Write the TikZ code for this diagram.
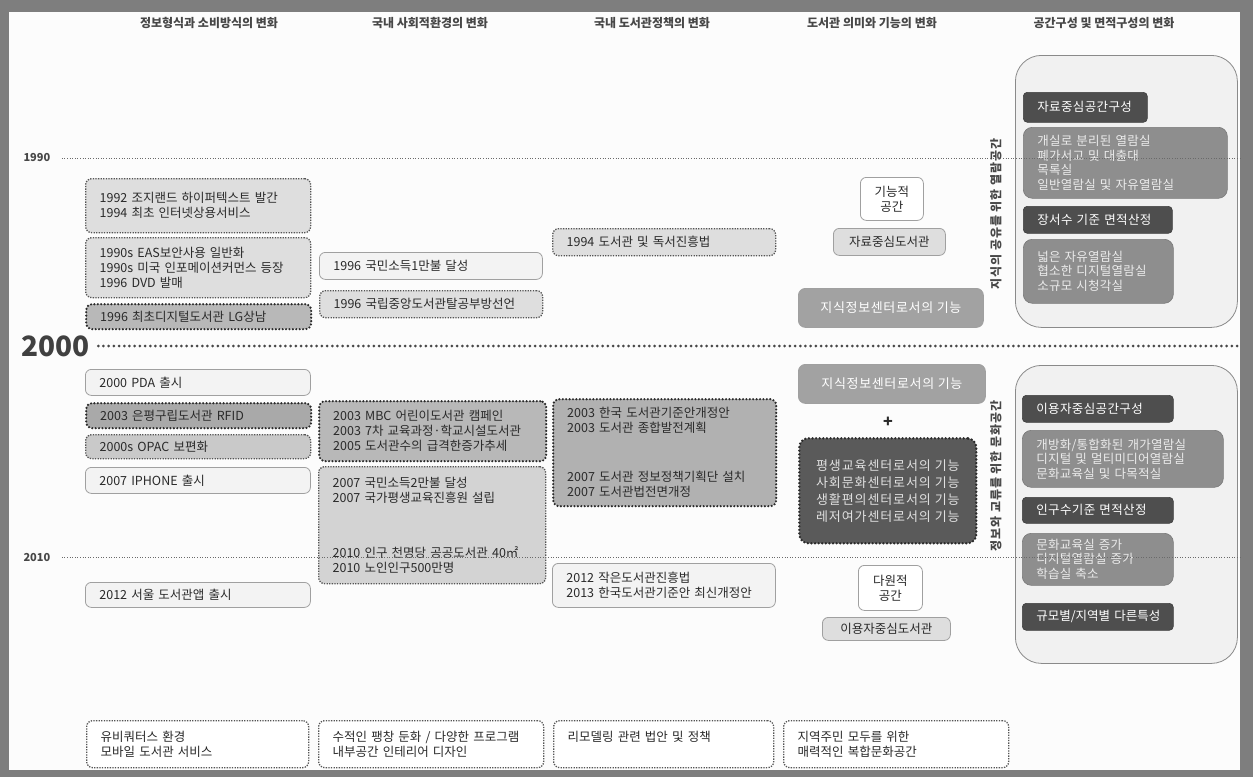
\documentclass[tikz,border=0pt]{standalone}
\usepackage{fontspec}
\setmainfont{Noto Sans CJK KR}
\definecolor{framegray}{HTML}{7E7E7E}
\definecolor{page}{HTML}{FCFCFC}
\definecolor{txt}{HTML}{2A2A2A}
\definecolor{hdr}{HTML}{474747}
\definecolor{solidedge}{HTML}{A0A0A0}
\definecolor{solidfill}{HTML}{F3F3F3}
\definecolor{dotedge}{HTML}{555555}
\definecolor{dotfill}{HTML}{DEDEDE}
\definecolor{midfill}{HTML}{C9C9C9}
\definecolor{heavyedge}{HTML}{2A2A2A}
\definecolor{heavyfill}{HTML}{B8B8B8}
\definecolor{gfill}{HTML}{A2A2A2}
\definecolor{darkfill}{HTML}{5A5A5A}
\definecolor{outerfill}{HTML}{F1F1F1}
\definecolor{outeredge}{HTML}{8A8A8A}
\definecolor{c5dark}{HTML}{4E4E4E}
\definecolor{c5mid}{HTML}{8E8E8E}
\definecolor{lineg}{HTML}{6A6A6A}
\newcommand{\mybox}[7]{\pgfmathsetmacro\bxw{#5-#3}\pgfmathsetmacro\bxh{#6-#4}\pgfmathsetmacro\bxt{#5-#3-28}%
  \node[#2, minimum width=\bxw pt, minimum height=\bxh pt, text width=\bxt pt] (#1) at (#3,#4) {#7};}
\newcommand{\mycbox}[7]{\pgfmathsetmacro\bxw{#5-#3}\pgfmathsetmacro\bxh{#6-#4}%
  \node[#2, minimum width=\bxw pt, minimum height=\bxh pt, align=center] (#1) at (#3,#4) {#7};}
\tikzset{
  base/.style={rounded corners=6pt, anchor=north west, inner xsep=14pt, inner ysep=0pt, align=left,
    font=\fontsize{12.5}{15}\selectfont, text=txt},
  solidbox/.style={base, draw=solidedge, fill=solidfill, line width=0.8pt},
  dotbox/.style={base, draw=dotedge, fill=dotfill, line width=1.3pt, dash pattern=on 1.3pt off 1.3pt},
  midbox/.style={dotbox, fill=midfill},
  heavybox/.style={base, draw=heavyedge, fill=heavyfill, line width=2.4pt, line cap=round, dash pattern=on 0pt off 3.4pt},
  whitedot/.style={dotbox, fill=white},
  graybox/.style={base, inner xsep=4pt, draw=solidedge, fill=gfill, line width=0.8pt, text=white,
    font=\fontsize{13}{15}\selectfont\addfontfeature{LetterSpace=5}, rounded corners=7pt},
  darkbox/.style={base, inner xsep=4pt, draw=heavyedge, fill=darkfill, line width=2.6pt, line cap=round,
    dash pattern=on 0pt off 3.6pt, text=white!88!black, font=\fontsize{13}{17}\selectfont\addfontfeature{LetterSpace=7}, rounded corners=9pt},
  cbox/.style={base, inner xsep=4pt, draw=solidedge, fill=solidfill, line width=0.8pt, font=\fontsize{12.5}{15}\selectfont},
  outerbox/.style={draw=outeredge, fill=outerfill, line width=0.8pt, rounded corners=26pt},
  c5d/.style={base, fill=c5dark, draw=c5dark!80!black, line width=0.6pt, text=white, rounded corners=4pt,
    font=\fontsize{12.5}{14}\selectfont\addfontfeature{LetterSpace=3}},
  c5m/.style={base, fill=c5mid, draw=c5mid!85!black, line width=0.6pt, text=white!92!black, rounded corners=9pt,
    font=\fontsize{12.5}{14.5}\selectfont\addfontfeature{LetterSpace=2}},
  header/.style={font=\fontsize{12}{14}\selectfont\bfseries, text=hdr},
  vlabel/.style={font=\fontsize{12}{13}\selectfont\bfseries\addfontfeature{LetterSpace=8}, text=hdr, rotate=90},
  yearsmall/.style={anchor=west, font=\fontsize{11}{12}\selectfont\bfseries, text=hdr},
  yearbig/.style={anchor=west, font=\fontsize{28}{30}\selectfont\bfseries, text=hdr!90!black},
  fineline/.style={draw=lineg, line width=1pt, dash pattern=on 1pt off 1.6pt},
  heavyline/.style={draw=hdr, line width=3pt, line cap=round, dash pattern=on 0pt off 5.2pt},
}
\begin{document}
\begin{tikzpicture}[x=1pt,y=-1pt]
\useasboundingbox (0,0) rectangle (1253,777);
\fill[framegray] (0,0) rectangle (1253,777);
\fill[page] (9,12) rectangle (1240,770);

% headers
\node[header] (h1) at (209,23) {정보형식과 소비방식의 변화};
\node[header] (h2) at (430,23) {국내 사회적환경의 변화};
\node[header] (h3) at (652,23) {국내 도서관정책의 변화};
\node[header] (h4) at (872,23) {도서관 의미와 기능의 변화};
\node[header] (h5) at (1104,23) {공간구성 및 면적구성의 변화};

% column 5 outer boxes
\node[outerbox, anchor=north west, minimum width=222pt, minimum height=272pt] (o1) at (1015,55) {};
\node[outerbox, anchor=north west, minimum width=222pt, minimum height=298pt] (o2) at (1015,365) {};

% column 1
\mybox{c1a}{dotbox}{85}{178}{310}{232}{1992 조지랜드 하이퍼텍스트 발간\\1994 최초 인터넷상용서비스}
\mybox{c1b}{dotbox}{85}{237}{310}{297}{1990s EAS보안사용 일반화\\1990s 미국 인포메이션커먼스 등장\\1996 DVD 발매}
\mybox{c1c}{heavybox}{85}{303}{310}{328}{1996 최초디지털도서관 LG상남}
\mybox{c1d}{solidbox}{85}{369}{310}{395}{2000 PDA 출시}
\mybox{c1e}{heavybox, fill=heavyfill!92!black}{85}{402}{310}{427}{2003 은평구립도서관 RFID}
\mybox{c1f}{midbox}{85}{434}{310}{458}{2000s OPAC 보편화}
\mybox{c1g}{solidbox}{85}{467}{310}{493}{2007 IPHONE 출시}
\mybox{c1h}{solidbox}{85}{582}{310}{607}{2012 서울 도서관앱 출시}

% column 2
\mybox{c2a}{solidbox}{319}{252}{542}{279}{1996 국민소득1만불 달성}
\mybox{c2b}{dotbox}{319}{290}{542}{317}{1996 국립중앙도서관탈공부방선언}
\mybox{c2c}{heavybox}{318}{400}{545}{460}{2003 MBC 어린이도서관 캠페인\\2003 7차 교육과정·학교시설도서관\\2005 도서관수의 급격한증가추세}
\mybox{c2d}{dotbox, fill=dotfill!95!black}{318}{466}{545}{583}{2007 국민소득2만불 달성\\2007 국가평생교육진흥원 설립\\[40pt]2010 인구 천명당 공공도서관 40㎡\\2010 노인인구500만명}

% column 3
\mybox{c3a}{dotbox}{552}{228}{775}{255}{1994 도서관 및 독서진흥법}
\mybox{c3b}{heavybox, fill=heavyfill!96!black}{552}{398}{775}{505}{2003 한국 도서관기준안개정안\\2003 도서관 종합발전계획\\[34pt]2007 도서관 정보정책기획단 설치\\2007 도서관법전면개정}
\mybox{c3c}{solidbox}{552}{563}{775}{607}{2012 작은도서관진흥법\\2013 한국도서관기준안 최신개정안}

% column 4
\mycbox{c4a}{cbox, fill=white}{860}{177}{923}{220}{기능적\\공간}
\mycbox{c4b}{cbox, fill=dotfill}{833}{228}{945}{255}{자료중심도서관}
\mycbox{c4c}{graybox}{798}{288}{983}{327}{지식정보센터로서의 기능}
\mycbox{c4d}{graybox}{798}{364}{985}{403}{지식정보센터로서의 기능}
\node[font=\fontsize{16}{17}\selectfont\bfseries, text=txt] (plus) at (888,422) {+};
\mycbox{c4e}{darkbox}{798}{437}{975}{542}{평생교육센터로서의 기능\\사회문화센터로서의 기능\\생활편의센터로서의 기능\\레저여가센터로서의 기능}
\mycbox{c4f}{cbox, fill=white}{858}{565}{922}{610}{다원적\\공간}
\mycbox{c4g}{cbox, fill=dotfill}{822}{617}{950}{640}{이용자중심도서관}

% vertical labels
\node[vlabel] (v1) at (996,214) {지식의 공유를 위한 열람공간};
\node[vlabel] (v2) at (996,476) {정보와 교류를 위한 문화공간};

% column 5 inner boxes
\mybox{c5a}{c5d}{1023}{92}{1147}{122}{자료중심공간구성}
\mybox{c5b}{c5m}{1023}{127}{1227}{198}{개실로 분리된 열람실\\폐가서고 및 대출대\\목록실\\일반열람실 및 자유열람실}
\mybox{c5c}{c5d}{1023}{206}{1172}{233}{장서수 기준 면적산정}
\mybox{c5e2}{c5m}{1023}{239}{1173}{303}{넓은 자유열람실\\협소한 디지털열람실\\소규모 시청각실}
\mybox{c5e}{c5d}{1022}{395}{1173}{422}{이용자중심공간구성}
\mybox{c5f}{c5m}{1022}{430}{1223}{487}{개방화/통합화된 개가열람실\\디지털 및 멀티미디어열람실\\문화교육실 및 다목적실}
\mybox{c5g}{c5d}{1022}{497}{1173}{523}{인구수기준 면적산정}
\mybox{c5h}{c5m}{1022}{533}{1173}{585}{문화교육실 증가\\디지털열람실 증가\\학습실 축소}
\mybox{c5i}{c5d}{1022}{603}{1173}{630}{\mbox{\addfontfeature{LetterSpace=0}규모별/지역별 다른특성}}

% bottom boxes
\mybox{b1}{whitedot}{86}{720}{308}{767}{유비쿼터스 환경\\모바일 도서관 서비스}
\mybox{b2}{whitedot}{318}{720}{543}{767}{수적인 팽창 둔화 / 다양한 프로그램\\내부공간 인테리어 디자인}
\mybox{b3}{whitedot}{553}{720}{773}{767}{리모델링 관련 법안 및 정책\\~}
\mybox{b4}{whitedot}{783}{720}{1008}{767}{지역주민 모두를 위한\\매력적인 복합문화공간}

% timeline
\node[yearsmall] (y1990) at (20,158) {1990};
\node[yearbig] (y2000) at (18,346) {2000};
\node[yearsmall] (y2010) at (20,557) {2010};
\coordinate (e1990) at (1240,158);
\coordinate (e2000) at (1240,346);
\coordinate (e2010) at (1240,557);
\draw[fineline] ([xshift=8pt]y1990.east) -- (e1990);
\draw[heavyline] ([xshift=5pt]y2000.east) -- (e2000);
\draw[fineline] ([xshift=8pt]y2010.east) -- (e2010);
\end{tikzpicture}
\end{document}
